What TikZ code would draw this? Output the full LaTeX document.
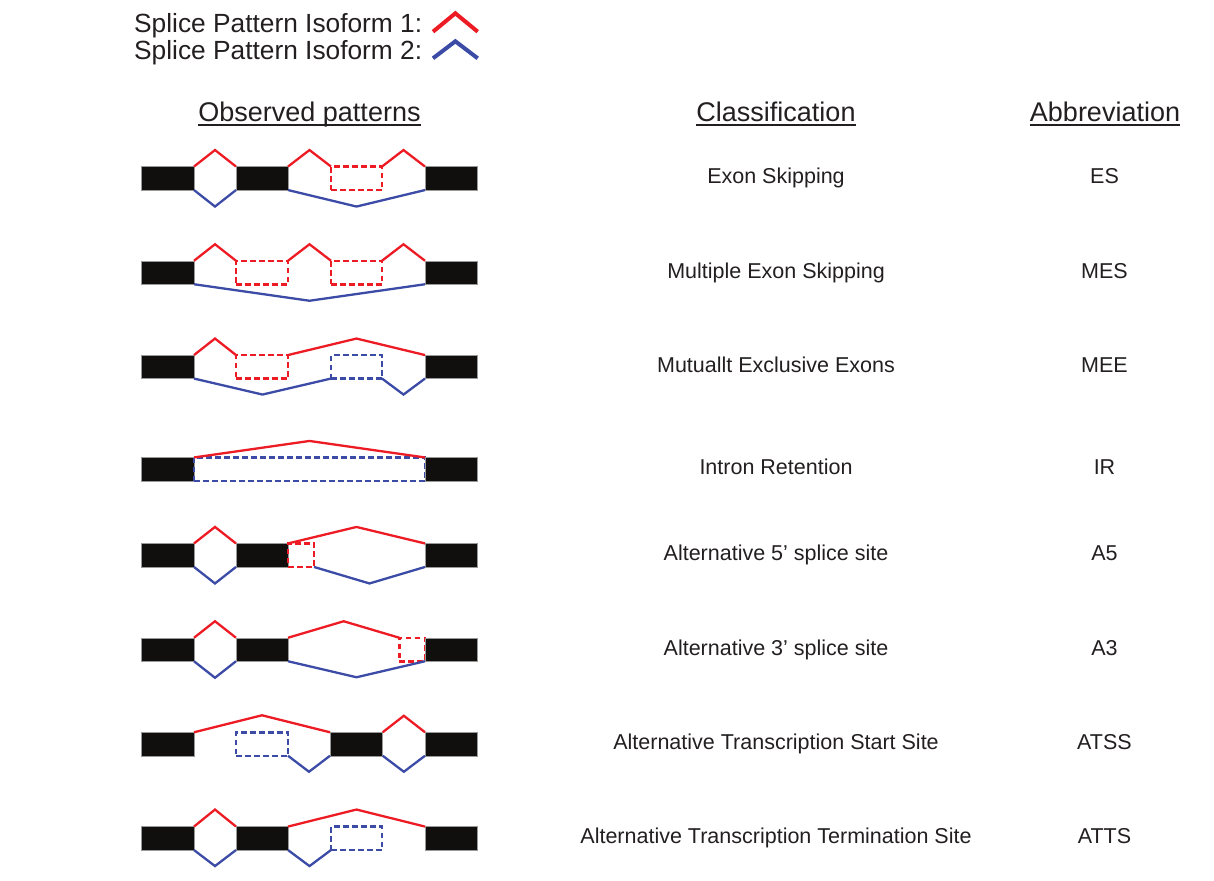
\documentclass[tikz,border=0pt]{standalone}
\usepackage{fontspec}
\setmainfont{Liberation Sans}
\usetikzlibrary{calc}
\definecolor{isored}{RGB}{237,28,36}
\definecolor{isoblue}{RGB}{59,75,166}
\definecolor{exonblk}{RGB}{17,15,13}
\definecolor{txtcol}{RGB}{35,31,32}
\newcommand\hop[4]{\draw[#1] (#2) -- ($(#2)!0.5!(#3)+(0,#4)$) -- (#3);}
\begin{document}
\begin{tikzpicture}[x=1pt,y=-1pt,
  exon/.style={rectangle, fill=exonblk, draw=black!40, line width=0.5pt, inner sep=0pt, outer sep=0pt, minimum height=23.5pt},
  dashbox/.style={rectangle, inner sep=0pt, outer sep=0pt, minimum height=23.5pt, line width=2.5pt, dash pattern=on 5.5pt off 3.5pt},
  wA/.style={minimum width=53pt}, wB/.style={minimum width=52pt},
  wC/.style={minimum width=51pt}, wD/.style={minimum width=52.5pt},
  iso1/.style={draw=isored, line width=2.3pt},
  iso2/.style={draw=isoblue, line width=2.3pt},
  legtxt/.style={text=txtcol, inner sep=0pt, font=\fontsize{26.3}{30}\selectfont},
  headtxt/.style={text=txtcol, inner sep=0pt, anchor=base, font=\fontsize{27}{31}\selectfont},
  bodytxt/.style={text=txtcol, inner sep=0pt, anchor=base, font=\fontsize{21.5}{25}\selectfont},
  uline/.style={draw=txtcol, line width=1.3pt}]
\useasboundingbox (0,0) rectangle (1214,880);

% legend
\node[legtxt, anchor=base west] (lg1) at (134,33) {Splice Pattern Isoform 1:};
\node[legtxt, anchor=base west] (lg2) at (134,60) {Splice Pattern Isoform 2:};
\coordinate (lc1a) at (433,31.7); \coordinate (lc1b) at (477.7,31.7);
\coordinate (lc2a) at (433,58.3); \coordinate (lc2b) at (477.7,58.3);
\hop{iso1, line width=4pt}{lc1a}{lc1b}{-18.4}
\hop{iso2, line width=4pt}{lc2a}{lc2b}{-17}

% headings
\node[headtxt] (h1) at (309.5,121.5) {Observed patterns};
\node[headtxt] (h2) at (776,121.5) {Classification};
\node[headtxt] (h3) at (1105,121.5) {Abbreviation};
\foreach \h in {h1,h2,h3}{
  \draw[uline] ($(\h.base west)+(0,3.5)$) -- ($(\h.base east)+(0,3.5)$);
}

% Row 1: ES
\node[exon,wA] (a1) at (167.5,178.3) {};
\node[exon,wB] (b1) at (262,178.3) {};
\node[dashbox,wC,draw=isored] (c1) at (356.5,178.3) {};
\node[exon,wD] (d1) at (451.25,178.3) {};
\hop{iso1}{a1.north east}{b1.north west}{-16.5}
\hop{iso2}{a1.south east}{b1.south west}{16.5}
\hop{iso1}{b1.north east}{c1.north west}{-16.5}
\hop{iso1}{c1.north east}{d1.north west}{-16.5}
\hop{iso2}{b1.south east}{d1.south west}{16.5}

% Row 2: MES
\node[exon,wA] (a2) at (167.5,272.5) {};
\node[dashbox,wB,draw=isored] (b2) at (262,272.5) {};
\node[dashbox,wC,draw=isored] (c2) at (356.5,272.5) {};
\node[exon,wD] (d2) at (451.25,272.5) {};
\hop{iso1}{a2.north east}{b2.north west}{-16.5}
\hop{iso1}{b2.north east}{c2.north west}{-16.5}
\hop{iso1}{c2.north east}{d2.north west}{-16.5}
\hop{iso2}{a2.south east}{d2.south west}{16.5}

% Row 3: MEE
\node[exon,wA] (a3) at (167.5,366.8) {};
\node[dashbox,wB,draw=isored] (b3) at (262,366.8) {};
\node[dashbox,wC,draw=isoblue] (c3) at (356.5,366.8) {};
\node[exon,wD] (d3) at (451.25,366.8) {};
\hop{iso1}{a3.north east}{b3.north west}{-16.5}
\hop{iso1}{b3.north east}{d3.north west}{-16.5}
\hop{iso2}{a3.south east}{c3.south west}{16}
\hop{iso2}{c3.south east}{d3.south west}{16}

% Row 4: IR
\node[exon,wA] (a4) at (167.5,469.2) {};
\node[dashbox,minimum width=231pt,draw=isoblue] (i4) at (309.5,469.2) {};
\node[exon,wD] (d4) at (451.25,469.2) {};
\hop{iso1}{a4.north east}{d4.north west}{-16.5}

% Row 5: A5
\node[exon,wA] (a5) at (167.5,555.2) {};
\node[exon,wB] (b5) at (262,555.2) {};
\node[dashbox,minimum width=26pt,draw=isored] (s5) at (301,555.2) {};
\node[exon,wD] (d5) at (451.25,555.2) {};
\hop{iso1}{a5.north east}{b5.north west}{-16.5}
\hop{iso2}{a5.south east}{b5.south west}{16.5}
\hop{iso1}{b5.north east}{d5.north west}{-16.5}
\hop{iso2}{s5.south east}{d5.south west}{16.5}

% Row 6: A3
\node[exon,wA] (a6) at (167.5,649.5) {};
\node[exon,wB] (b6) at (262,649.5) {};
\node[dashbox,minimum width=25.7pt,draw=isored] (s6) at (412.15,649.5) {};
\node[exon,wD] (d6) at (451.25,649.5) {};
\hop{iso1}{a6.north east}{b6.north west}{-16.5}
\hop{iso2}{a6.south east}{b6.south west}{16.5}
\hop{iso1}{b6.north east}{s6.north west}{-16.5}
\hop{iso2}{b6.south east}{d6.south west}{16}

% Row 7: ATSS
\node[exon,wA] (a7) at (167.5,744) {};
\node[dashbox,wB,draw=isoblue] (b7) at (262,744) {};
\node[exon,minimum width=52.7pt] (c7) at (356.35,744) {};
\node[exon,wD] (d7) at (451.25,744) {};
\hop{iso1}{a7.north east}{c7.north west}{-17}
\hop{iso2}{b7.south east}{c7.south west}{16}
\hop{iso1}{c7.north east}{d7.north west}{-16.5}
\hop{iso2}{c7.south east}{d7.south west}{16}

% Row 8: ATTS
\node[exon,wA] (a8) at (167.5,838.3) {};
\node[exon,wB] (b8) at (262,838.3) {};
\node[dashbox,wC,draw=isoblue] (c8) at (356.5,838.3) {};
\node[exon,wD] (d8) at (451.25,838.3) {};
\hop{iso1}{a8.north east}{b8.north west}{-17}
\hop{iso2}{a8.south east}{b8.south west}{16}
\hop{iso1}{b8.north east}{d8.north west}{-17}
\hop{iso2}{b8.south east}{c8.south west}{16}

% classification and abbreviations
\node[bodytxt] (t1) at (776,183.8) {Exon Skipping};
\node[bodytxt] (t2) at (776,278) {Multiple Exon Skipping};
\node[bodytxt] (t3) at (776,372.3) {Mutuallt Exclusive Exons};
\node[bodytxt] (t4) at (776,474.7) {Intron Retention};
\node[bodytxt] (t5) at (776,560.7) {Alternative 5’ splice site};
\node[bodytxt] (t6) at (776,655) {Alternative 3’ splice site};
\node[bodytxt] (t7) at (776,749.5) {Alternative Transcription Start Site};
\node[bodytxt] (t8) at (776,843.8) {Alternative Transcription Termination Site};

\node[bodytxt] (ab1) at (1104.5,183.8) {ES};
\node[bodytxt] (ab2) at (1104.5,278) {MES};
\node[bodytxt] (ab3) at (1104.5,372.3) {MEE};
\node[bodytxt] (ab4) at (1104.5,474.7) {IR};
\node[bodytxt] (ab5) at (1104.5,560.7) {A5};
\node[bodytxt] (ab6) at (1104.5,655) {A3};
\node[bodytxt] (ab7) at (1104.5,749.5) {ATSS};
\node[bodytxt] (ab8) at (1104.5,843.8) {ATTS};
\end{tikzpicture}
\end{document}
